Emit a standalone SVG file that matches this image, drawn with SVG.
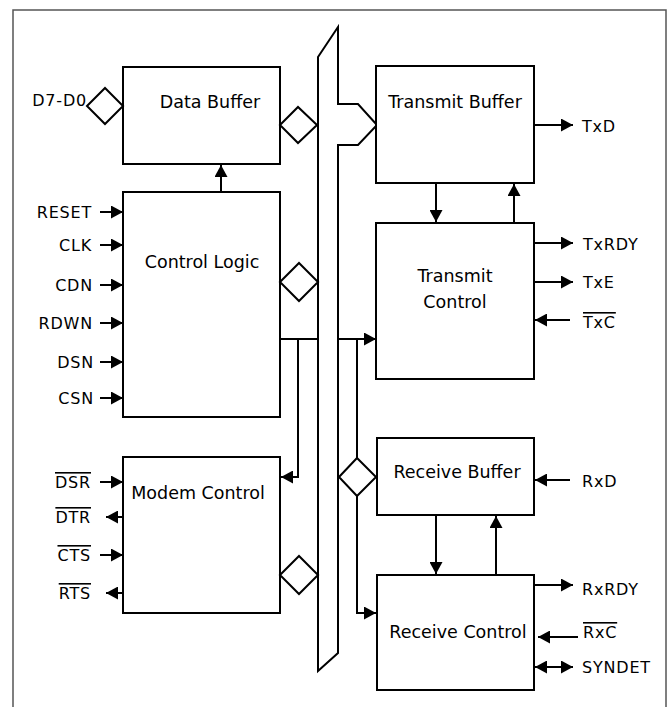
<svg xmlns="http://www.w3.org/2000/svg" width="668" height="707" viewBox="0 0 668 707">
<style>
.box{fill:#fff;stroke:#000;stroke-width:2}
.ln{fill:none;stroke:#000;stroke-width:2}
.dm{fill:#fff;stroke:#000;stroke-width:2}
.t{font-family:"DejaVu Sans",sans-serif;font-size:17.5px;fill:#000;text-anchor:middle}
.s{font-family:"DejaVu Sans",sans-serif;font-size:16px;fill:#000;letter-spacing:0.8px}
.e{text-anchor:end}
.o{text-decoration:overline}
</style>
<defs>
<marker id="ah" markerUnits="userSpaceOnUse" viewBox="0 0 12 13" refX="12" refY="6.5" markerWidth="12" markerHeight="13" orient="auto-start-reverse">
<path d="M0,0 L12,6.5 L0,13 Z" fill="#000"/>
</marker>
</defs>
<rect width="668" height="707" fill="#fff"/>
<path d="M13,707 V10 H666 V707" fill="none" stroke="#555" stroke-width="1.5"/>

<g id="bus">
<path class="box" d="M318,671 V57 L338,27 V104 H358 L377,125 L358,145 H338 V653 Z"/>
</g>

<g id="connectors">
<line class="ln" x1="221" y1="192" x2="221" y2="165" marker-end="url(#ah)"/>
<line class="ln" x1="280" y1="339" x2="318" y2="339"/>
<polyline class="ln" points="298,339 298,477 281,477" marker-end="url(#ah)"/>
<line class="ln" x1="338" y1="339" x2="376" y2="339" marker-end="url(#ah)"/>
<line class="ln" x1="357" y1="339" x2="357" y2="458"/>
<polyline class="ln" points="357,496 357,613 376,613" marker-end="url(#ah)"/>
<line class="ln" x1="436" y1="183" x2="436" y2="222" marker-end="url(#ah)"/>
<line class="ln" x1="514" y1="223" x2="514" y2="184" marker-end="url(#ah)"/>
<line class="ln" x1="436" y1="515" x2="436" y2="574" marker-end="url(#ah)"/>
<line class="ln" x1="496" y1="575" x2="496" y2="516" marker-end="url(#ah)"/>
<line class="ln" x1="100" y1="212" x2="123" y2="212" marker-end="url(#ah)"/>
<line class="ln" x1="100" y1="245" x2="123" y2="245" marker-end="url(#ah)"/>
<line class="ln" x1="100" y1="285" x2="123" y2="285" marker-end="url(#ah)"/>
<line class="ln" x1="100" y1="323" x2="123" y2="323" marker-end="url(#ah)"/>
<line class="ln" x1="100" y1="362" x2="123" y2="362" marker-end="url(#ah)"/>
<line class="ln" x1="100" y1="398" x2="123" y2="398" marker-end="url(#ah)"/>
<line class="ln" x1="100" y1="482" x2="123" y2="482" marker-end="url(#ah)"/>
<line class="ln" x1="123" y1="517" x2="106" y2="517" marker-end="url(#ah)"/>
<line class="ln" x1="100" y1="555" x2="123" y2="555" marker-end="url(#ah)"/>
<line class="ln" x1="123" y1="593" x2="106" y2="593" marker-end="url(#ah)"/>
<line class="ln" x1="534" y1="125" x2="573" y2="125" marker-end="url(#ah)"/>
<line class="ln" x1="534" y1="243" x2="573" y2="243" marker-end="url(#ah)"/>
<line class="ln" x1="534" y1="282" x2="573" y2="282" marker-end="url(#ah)"/>
<line class="ln" x1="570" y1="320" x2="535" y2="320" marker-end="url(#ah)"/>
<line class="ln" x1="570" y1="480" x2="535" y2="480" marker-end="url(#ah)"/>
<line class="ln" x1="534" y1="585" x2="573" y2="585" marker-end="url(#ah)"/>
<line class="ln" x1="578" y1="637" x2="538" y2="637" marker-end="url(#ah)"/>
<line class="ln" x1="535" y1="667" x2="573" y2="667" marker-start="url(#ah)" marker-end="url(#ah)"/>
</g>

<g id="data-buffer">
<rect class="box" x="123" y="67" width="157" height="97"/>
<text class="t" x="210" y="108">Data Buffer</text>
<polygon class="dm" points="87,106 105,88 123,106 105,124"/>
<polygon class="dm" points="280,125 298,107 317,125 298,143"/>
<text class="s e" x="87" y="106">D7-D0</text>
</g>

<g id="control-logic">
<rect class="box" x="123" y="192" width="157" height="225"/>
<text class="t" x="202" y="268">Control Logic</text>
<polygon class="dm" points="280,282 299,263 318,282 299,301"/>
<text class="s e" x="92" y="218">RESET</text>
<text class="s e" x="92" y="251">CLK</text>
<text class="s e" x="93" y="291">CDN</text>
<text class="s e" x="93" y="329">RDWN</text>
<text class="s e" x="94" y="368">DSN</text>
<text class="s e" x="94" y="404">CSN</text>
</g>

<g id="modem-control">
<rect class="box" x="123" y="457" width="157" height="156"/>
<text class="t" x="198" y="499">Modem Control</text>
<polygon class="dm" points="280,575 299,556 318,575 299,594"/>
<text class="s e o" x="91" y="488">DSR</text>
<text class="s e o" x="91" y="523">DTR</text>
<text class="s e o" x="91" y="561">CTS</text>
<text class="s e o" x="91" y="599">RTS</text>
</g>

<g id="transmit-buffer">
<rect class="box" x="376" y="66" width="158" height="117"/>
<text class="t" x="455" y="108">Transmit Buffer</text>
<text class="s" x="582" y="132">TxD</text>
</g>

<g id="transmit-control">
<rect class="box" x="376" y="223" width="158" height="156"/>
<text class="t" x="455" y="282">Transmit</text>
<text class="t" x="455" y="308">Control</text>
<text class="s" x="583" y="250">TxRDY</text>
<text class="s" x="583" y="288">TxE</text>
<text class="s o" x="583" y="328">TxC</text>
</g>

<g id="receive-buffer">
<rect class="box" x="377" y="438" width="157" height="77"/>
<text class="t" x="457" y="478">Receive Buffer</text>
<polygon class="dm" points="339,477 357,458 376,477 357,496"/>
<text class="s" x="582" y="487">RxD</text>
</g>

<g id="receive-control">
<rect class="box" x="377" y="575" width="157" height="115"/>
<text class="t" x="458" y="638">Receive Control</text>
<text class="s" x="582" y="595">RxRDY</text>
<text class="s o" x="583" y="638">RxC</text>
<text class="s" x="582" y="673">SYNDET</text>
</g>
</svg>
